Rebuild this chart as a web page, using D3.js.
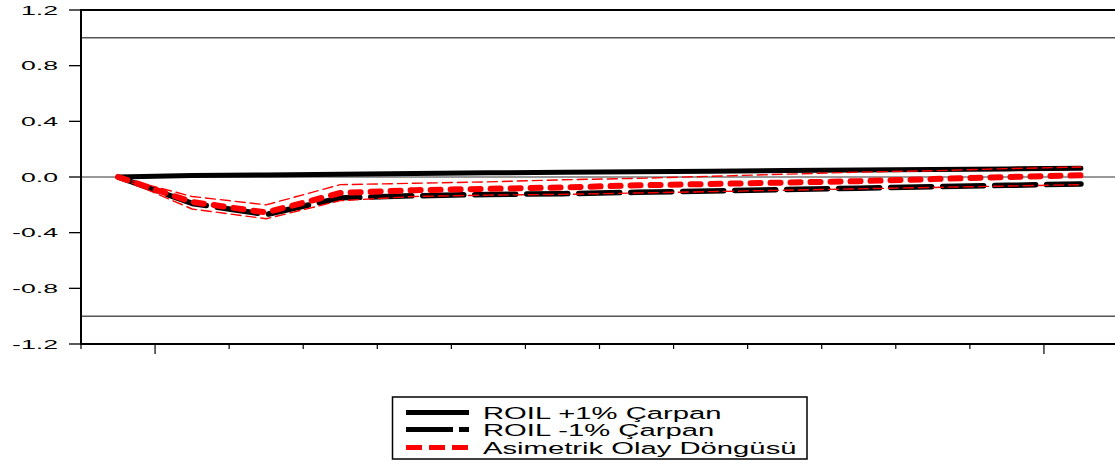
<!DOCTYPE html>
<html>
<head>
<meta charset="utf-8">
<script src="https://cdn.jsdelivr.net/npm/d3@7"></script>
<style>
    body { margin: 0; background: #fff; }
    svg { display: block; font-family: "Liberation Sans", Arial, sans-serif; }
</style>
</head>
<body>
<div id="chart"></div>
<script>
const periods = [1, 2, 3, 4, 5, 6, 7, 8, 9, 10, 11, 12, 13, 14];
const roilPlus = [0, 0.010, 0.015, 0.020, 0.025, 0.030, 0.034, 0.038, 0.042, 0.046, 0.050, 0.054, 0.058, 0.062];
const roilMinus = [0, -0.19, -0.27, -0.15, -0.135, -0.125, -0.12, -0.11, -0.10, -0.09, -0.08, -0.07, -0.06, -0.05];
const asymMid = [0, -0.18, -0.255, -0.115, -0.095, -0.085, -0.075, -0.06, -0.05, -0.04, -0.03, -0.015, 0.0, 0.012];
const asymUpper = [0, -0.14, -0.20, -0.055, -0.045, -0.035, -0.02, -0.01, 0.005, 0.02, 0.035, 0.045, 0.06, 0.072];
const asymLower = [0, -0.23, -0.30, -0.17, -0.14, -0.13, -0.125, -0.115, -0.105, -0.095, -0.085, -0.075, -0.065, -0.055];
const yTicks = [1.2, 0.8, 0.4, 0.0, -0.4, -0.8, -1.2];
const refLines = [1.0, 0.0, -1.0];
const legendLabels = ["ROIL +1% Çarpan", "ROIL -1% Çarpan", "Asimetrik Olay Döngüsü"];

const chartWidth = 1115, chartHeight = 464;
const plotLeft = 81, plotTop = 10, plotRight = 1118, plotBottom = 344;

const svg = d3.select("#chart").append("svg")
    .attr("width", chartWidth)
    .attr("height", chartHeight);

const x = d3.scaleLinear().domain([0.5, 14.5]).range([plotLeft, plotRight]);
const y = d3.scaleLinear().domain([-1.2, 1.2]).range([plotBottom, plotTop]);

// reference lines
svg.selectAll("line.ref")
    .data(refLines)
    .enter().append("line")
    .attr("class", "ref")
    .attr("x1", plotLeft).attr("x2", plotRight)
    .attr("y1", d => y(d)).attr("y2", d => y(d))
    .attr("stroke", d => d === 0 ? "#333" : "#000")
    .attr("stroke-width", 1);

// y axis ticks + labels
svg.selectAll("line.ytick")
    .data(yTicks)
    .enter().append("line")
    .attr("x1", plotLeft - 12).attr("x2", plotLeft)
    .attr("y1", d => y(d)).attr("y2", d => y(d))
    .attr("stroke", "#000")
    .attr("stroke-width", 1.3);

svg.selectAll("text.ylab")
    .data(yTicks)
    .enter().append("text")
    .attr("transform", d => `translate(58,${y(d) + 4.8}) scale(2.05,1)`)
    .attr("text-anchor", "end")
    .attr("font-size", 13)
    .attr("fill", "#000")
    .text(d => d.toFixed(1));

// x ticks at period boundaries
const xBounds = d3.range(0, 14).map(k => k + 0.5);
svg.selectAll("line.xtick")
    .data(xBounds)
    .enter().append("line")
    .attr("x1", d => x(d)).attr("x2", d => x(d))
    .attr("y1", plotBottom)
    .attr("y2", d => (d === 1.5 || d === 13.5) ? plotBottom + 10 : plotBottom + 5)
    .attr("stroke", "#000")
    .attr("stroke-width", 1.2);

// frame
svg.append("rect")
    .attr("x", plotLeft).attr("y", plotTop)
    .attr("width", plotRight - plotLeft).attr("height", plotBottom - plotTop)
    .attr("fill", "none")
    .attr("stroke", "#000")
    .attr("stroke-width", 2);

const line = d3.line()
    .x((d, i) => x(periods[i]))
    .y(d => y(d));

function drawSeries(values, color, w, dash) {
    svg.append("path")
        .datum(values)
        .attr("d", line)
        .attr("fill", "none")
        .attr("stroke", color)
        .attr("stroke-width", w)
        .attr("stroke-linecap", "round")
        .attr("stroke-linejoin", "round")
        .attr("stroke-dasharray", dash);
}

drawSeries(roilPlus, "#000", 5, null);
drawSeries(roilMinus, "#000", 5.5, "41,11");
drawSeries(asymMid, "#ff0000", 6, "10,10");
drawSeries(asymUpper, "#ff0000", 1.4, "10,5");
drawSeries(asymLower, "#ff0000", 1.4, "10,5");

// legend
const legend = svg.append("g");
legend.append("rect")
    .attr("x", 392.5).attr("y", 397)
    .attr("width", 414.5).attr("height", 62)
    .attr("fill", "#fff")
    .attr("stroke", "#000")
    .attr("stroke-width", 1.5);

const legendStyles = [
    { color: "#000", w: 5, dash: null },
    { color: "#000", w: 5, dash: "47,6,10,30" },
    { color: "#ff0000", w: 5, dash: "16,7" }
];
const legendY = [412.5, 429.5, 447.5];

legendLabels.forEach((label, i) => {
    const s = legendStyles[i];
    legend.append("line")
        .attr("x1", 406).attr("x2", 469)
        .attr("y1", legendY[i]).attr("y2", legendY[i])
        .attr("stroke", s.color)
        .attr("stroke-width", s.w)
        .attr("stroke-dasharray", s.dash);
    legend.append("text")
        .attr("transform", `translate(483,${legendY[i] + 6.5}) scale(1.72,1)`)
        .attr("font-size", 17)
        .attr("fill", "#000")
        .text(label);
});
</script>
</body>
</html>
